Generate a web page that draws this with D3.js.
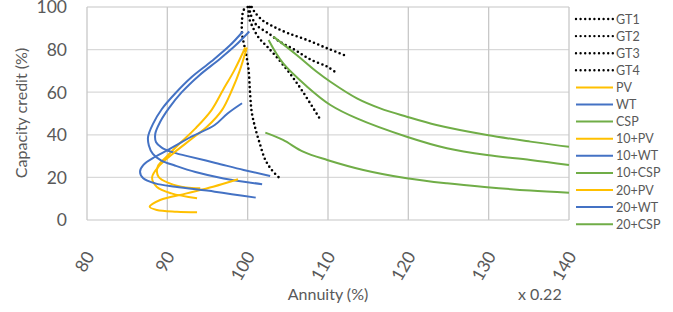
<!DOCTYPE html>
<html>
<head>
<meta charset="utf-8">
<script src="https://cdn.jsdelivr.net/npm/d3@7"></script>
<style>
  body { margin: 0; background: #fff; }
  svg text { font-family: Lato, "Open Sans", sans-serif; fill: #595959; }
</style>
</head>
<body>
<div id="chart"></div>
<script>
// [annuity %, capacity credit %]
const gt1 = [[100, 100], [99.5, 98.6], [99.3, 93.9], [99.3, 87.6], [99.7, 79.8], [100.1, 71], [100.3, 59.5], [100.5, 50.8], [100.9, 43.8], [101.5, 36], [102.2, 28.2], [103, 23.5], [103.9, 19.9]];
const gt2 = [[100.2, 100], [100.1, 96], [100.7, 90], [101.4, 85.5], [102.4, 81.5], [103.6, 76.5], [104.8, 71], [105.9, 65.5], [106.9, 60], [108, 53.5], [109, 47.4]];
const gt3 = [[100.3, 100], [100.3, 97.5], [101.1, 91.5], [102.6, 87.6], [104, 83.7], [105.9, 79.8], [107.8, 75.4], [109.9, 72], [111.1, 68.9]];
const gt4 = [[100.5, 100], [100.8, 98], [101.8, 93.9], [103.2, 90.8], [105.1, 87.6], [107.4, 84.5], [109.9, 80.6], [112.3, 77]];
const pv = [[99.7, 81], [98.3, 70], [97, 61.5], [95.5, 51.6], [93.5, 43], [91.5, 35.8], [89.9, 29.7], [88.8, 25], [88.9, 20.3], [90.3, 17.2], [92.3, 15.3], [94.1, 14.9]];
const wt = [[100.2, 88.5], [98.5, 82], [96.5, 75.5], [94, 68], [91.8, 60], [90.2, 52.5], [89.1, 46], [88.5, 40.5], [88.6, 36.5], [89.3, 34], [90.5, 32], [92.5, 30], [96, 26.8], [99.5, 23.5], [102.8, 20.7]];
const csp = [[103.2, 86.1], [106.1, 77.5], [108.6, 69.6], [110.3, 64.9], [113.6, 57.1], [116.5, 52.4], [119.8, 48.5], [123.5, 44.6], [129.8, 39.9], [135.2, 36.8], [140, 34.4]];
const pv10 = [[99.9, 81], [99, 70], [98.1, 61.5], [96.8, 51.6], [95, 44], [93, 38], [90.8, 31.5], [89, 25.5], [88.1, 20], [88.7, 15.5], [90.5, 12.5], [93.7, 10.2]];
const wt10 = [[99.4, 88.5], [97.8, 82], [95.5, 74.5], [93, 67], [91, 59.5], [89.3, 52], [88.2, 45], [87.6, 39], [87.7, 35], [88.2, 31], [89.2, 28], [91, 25.5], [93.5, 22.5], [97, 19.5], [101.8, 16.8]];
const csp10 = [[102.6, 84.5], [104.4, 73.6], [107.4, 62.6], [110.3, 54], [113.6, 47.7], [119.8, 39.1], [124.8, 33.7], [129.8, 30.5], [135.2, 28.2], [140, 25.8]];
const pv20 = [[98.8, 19.1], [95.7, 15.6], [92.4, 12.5], [89.1, 9.4], [87.8, 6.2], [88.7, 4.7], [91.2, 3.9], [93.7, 3.6]];
const wt20 = [[99.3, 54.8], [97.5, 50], [95.9, 44.6], [93, 39.1], [90.1, 32.9], [88.5, 29.7], [87, 25.8], [86.6, 22.7], [87, 19.6], [88.5, 17.2], [91, 15.6], [95.9, 13.3], [101, 10.5]];
const csp20 = [[102.2, 41], [104.4, 37.6], [106.9, 32.1], [109.9, 28.2], [114.4, 23.5], [119.8, 19.6], [124.8, 17.2], [129.8, 15.4], [135.2, 13.8], [140, 12.8]];

const seriesNames = ["GT1", "GT2", "GT3", "GT4", "PV", "WT", "CSP", "10+PV", "10+WT", "10+CSP", "20+PV", "20+WT", "20+CSP"];
const seriesData = [gt1, gt2, gt3, gt4, pv, wt, csp, pv10, wt10, csp10, pv20, wt20, csp20];
const xTicks = [80, 90, 100, 110, 120, 130, 140];
const yTicks = [0, 20, 40, 60, 80, 100];

const kindColor = { GT: "#000000", PV: "#FFC000", WT: "#4472C4", CSP: "#70AD47" };
function kindOf(name) {
    return name.startsWith("GT") ? "GT" : name.replace(/^\d+\+/, "");
}

const width = 673, height = 312;
const svg = d3.select("#chart").append("svg")
    .attr("width", width)
    .attr("height", height);

const xScale = d3.scaleLinear().domain([80, 140]).range([87, 569]);
const yScale = d3.scaleLinear().domain([0, 100]).range([220, 7]);

// gridlines
svg.append("g")
    .selectAll("line")
    .data(yTicks)
    .enter()
    .append("line")
        .attr("x1", xScale(80))
        .attr("x2", xScale(140))
        .attr("y1", d => yScale(d))
        .attr("y2", d => yScale(d))
        .attr("stroke", "#d9d9d9")
        .attr("stroke-width", 1.3);
svg.append("g")
    .selectAll("line")
    .data(xTicks)
    .enter()
    .append("line")
        .attr("x1", d => xScale(d))
        .attr("x2", d => xScale(d))
        .attr("y1", yScale(0))
        .attr("y2", yScale(100))
        .attr("stroke", "#c8c8c8")
        .attr("stroke-width", 1.3);

// y tick labels
svg.append("g")
    .selectAll("text")
    .data(yTicks)
    .enter()
    .append("text")
        .attr("x", 67)
        .attr("y", d => yScale(d))
        .attr("dy", "0.36em")
        .attr("text-anchor", "end")
        .style("font-size", "17.5px")
        .text(d => d);

// x tick labels, rotated
svg.append("g")
    .selectAll("text")
    .data(xTicks)
    .enter()
    .append("text")
        .attr("transform", d => `translate(${xScale(d) + 8}, 256) rotate(-60)`)
        .attr("text-anchor", "end")
        .style("font-size", "17.5px")
        .text(d => d);

// axis titles
svg.append("text")
    .attr("transform", "translate(27, 113) rotate(-90)")
    .attr("text-anchor", "middle")
    .style("font-size", "16px")
    .text("Capacity credit (%)");
svg.append("text")
    .attr("x", 328)
    .attr("y", 300)
    .attr("text-anchor", "middle")
    .style("font-size", "16px")
    .text("Annuity (%)");
svg.append("text")
    .attr("x", 518)
    .attr("y", 300)
    .style("font-size", "16px")
    .text("x 0.22");

// series
const line = d3.line()
    .x(d => xScale(d[0]))
    .y(d => yScale(d[1]))
    .curve(d3.curveCatmullRom.alpha(0.5));

const plot = svg.append("g");
seriesNames.forEach((name, i) => {
    const kind = kindOf(name);
    const path = plot.append("path")
        .datum(seriesData[i])
        .attr("d", line)
        .attr("fill", "none")
        .attr("stroke", kindColor[kind]);
    if (kind === "GT") {
        path.attr("stroke-width", 2.6)
            .attr("stroke-dasharray", "0,4.6")
            .attr("stroke-linecap", "round");
    } else {
        path.attr("stroke-width", 2);
    }
});

// legend
const legend = svg.append("g")
    .selectAll("g")
    .data(seriesNames)
    .enter()
    .append("g")
        .attr("transform", (d, i) => `translate(576, ${19 + i * 17.1})`);
legend.append("line")
    .attr("x1", 0)
    .attr("x2", 37)
    .attr("stroke", d => kindColor[kindOf(d)])
    .attr("stroke-width", d => kindOf(d) === "GT" ? 2.4 : 2)
    .attr("stroke-dasharray", d => kindOf(d) === "GT" ? "0,4.6" : null)
    .attr("stroke-linecap", d => kindOf(d) === "GT" ? "round" : "butt");
legend.append("text")
    .attr("x", 40)
    .attr("dy", "0.36em")
    .style("font-size", "12.5px")
    .text(d => d);
</script>
</body>
</html>
